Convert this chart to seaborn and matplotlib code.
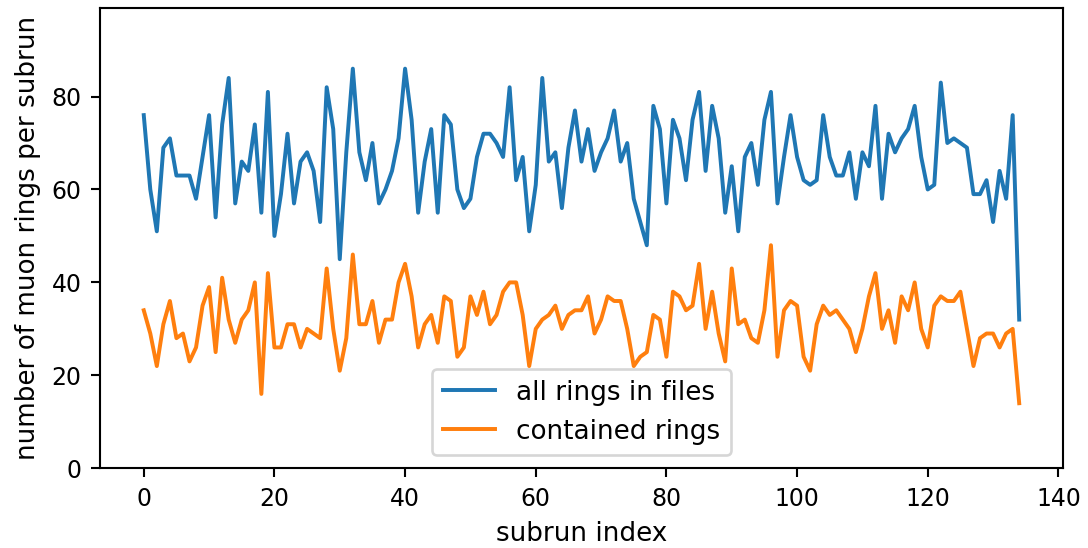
import numpy as np
import pandas as pd
import matplotlib
matplotlib.use("Agg")
import matplotlib.pyplot as plt
import seaborn as sns

all_rings = [76, 60, 51, 69, 71, 63, 63, 63, 58, 67, 76, 54, 74, 84, 57, 66, 64, 74, 55, 81,
             50, 59, 72, 57, 66, 68, 64, 53, 82, 73, 45, 68, 86, 68, 62, 70, 57, 60, 64, 71,
             86, 75, 55, 66, 73, 55, 76, 74, 60, 56, 58, 67, 72, 72, 70, 67, 82, 62, 67, 51,
             61, 84, 66, 68, 56, 69, 77, 66, 73, 64, 68, 71, 77, 66, 70, 58, 53, 48, 78, 73,
             57, 75, 71, 62, 75, 81, 64, 78, 71, 55, 65, 51, 67, 70, 61, 75, 81, 57, 67, 76,
             67, 62, 61, 62, 76, 67, 63, 63, 68, 58, 68, 65, 78, 58, 72, 68, 71, 73, 78, 67,
             60, 61, 83, 70, 71, 70, 69, 59, 59, 62, 53, 64, 58, 76, 32]

contained_rings = [34, 29, 22, 31, 36, 28, 29, 23, 26, 35, 39, 25, 41, 32, 27, 32, 34, 40, 16, 42,
                   26, 26, 31, 31, 26, 30, 29, 28, 43, 30, 21, 28, 46, 31, 31, 36, 27, 32, 32, 40,
                   44, 37, 26, 31, 33, 27, 37, 36, 24, 26, 37, 33, 38, 31, 33, 38, 40, 40, 33, 22,
                   30, 32, 33, 35, 30, 33, 34, 34, 37, 29, 32, 37, 36, 36, 30, 22, 24, 25, 33, 32,
                   24, 38, 37, 34, 35, 44, 30, 38, 29, 23, 43, 31, 32, 28, 27, 34, 48, 24, 34, 36,
                   35, 24, 21, 31, 35, 33, 34, 32, 30, 25, 30, 37, 42, 30, 34, 27, 37, 34, 40, 30,
                   26, 35, 37, 36, 36, 38, 30, 22, 28, 29, 29, 26, 29, 30, 14]

subrun = list(range(len(all_rings)))

DPI = 189
plt.rcParams["xtick.labelsize"] = 9
plt.rcParams["ytick.labelsize"] = 9
plt.rcParams["axes.labelsize"] = 10
plt.rcParams["legend.fontsize"] = 10

fig, ax = plt.subplots(figsize=(1088 / DPI, 548 / DPI), dpi=DPI)
fig.subplots_adjust(left=0.0919, right=0.977, top=0.9849, bottom=0.1455)

sns.lineplot(x=subrun, y=all_rings, ax=ax, color="tab:blue", linewidth=1.5,
             label="all rings in files")
sns.lineplot(x=subrun, y=contained_rings, ax=ax, color="tab:orange", linewidth=1.5,
             label="contained rings")

ax.set_ylim(0, 99)
ax.set_xlabel("subrun index")
ax.set_ylabel("number of muon rings per subrun")
ax.legend(loc="lower center")

fig.savefig("out.png", dpi=DPI)
